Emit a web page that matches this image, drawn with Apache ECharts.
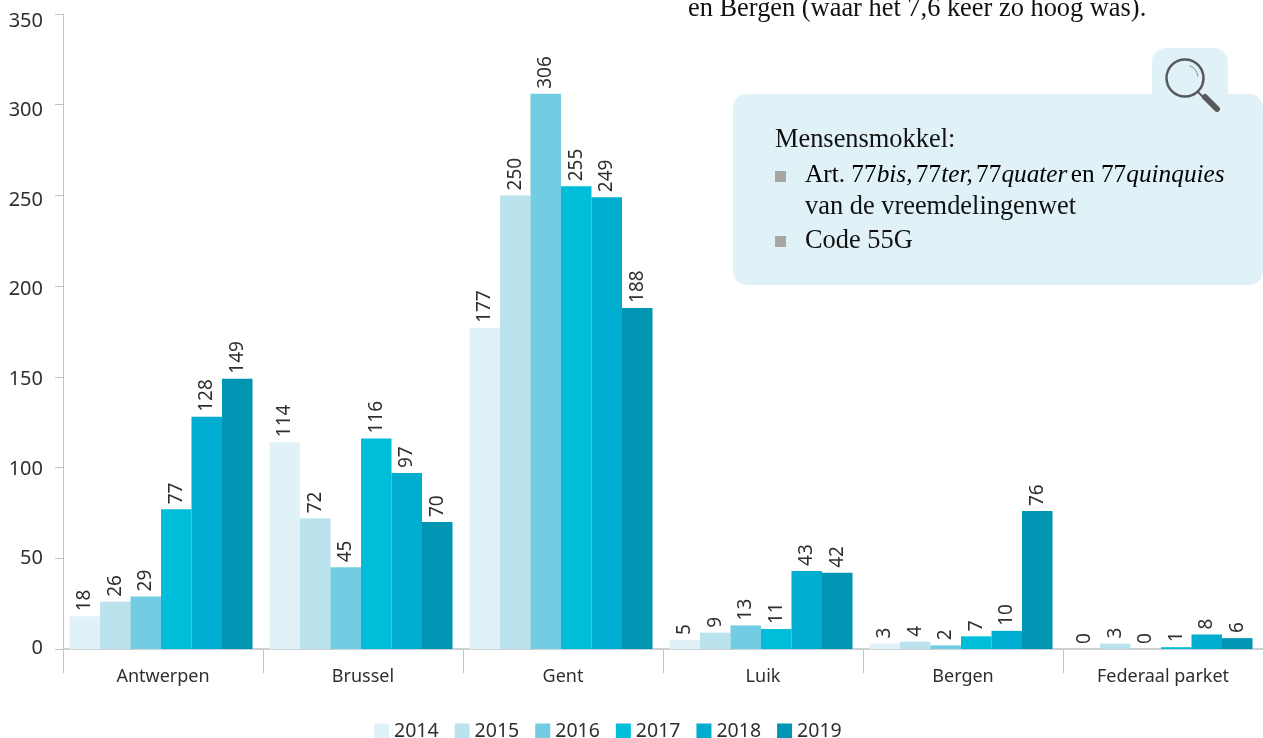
<!DOCTYPE html>
<html><head><meta charset="utf-8">
<script src="https://cdn.jsdelivr.net/npm/echarts@6/dist/echarts.min.js"></script>
<style>html,body{margin:0;padding:0;background:#fff}#c{width:1263px;height:738px}</style>
</head><body><div id="c"></div>
<script>
const categories = ['Antwerpen','Brussel','Gent','Luik','Bergen','Federaal parket'];
const years = ['2014','2015','2016','2017','2018','2019'];
const v2014 = [18,114,177,5,3,0];
const v2015 = [26,72,250,9,4,3];
const v2016 = [29,45,306,13,2,0];
const v2017 = [77,116,255,11,7,1];
const v2018 = [128,97,249,43,10,8];
const v2019 = [149,70,188,42,76,6];
const colors = ['#e0f2f7','#bae3ee','#72cce2','#00bdd9','#00acd0','#0096b3'];
const allValues = [v2014,v2015,v2016,v2017,v2018,v2019];
const sans = '"Noto Sans"';
const serif = '"Liberation Serif"';
const ink = '#2f2f2f';
const panel = '#e0f2f7';
const chart = echarts.init(document.getElementById('c'));
const bodyFont = '26.4px '+serif;
const richDef = {
  r:{fontFamily:'Liberation Serif',fontSize:25.3,color:'#111'},
  i:{fontFamily:'Liberation Serif',fontSize:25.3,fontStyle:'italic',color:'#111'}
};
const vAxisBase = {type:'value',min:0,max:350,interval:50,splitLine:{show:false}};
chart.setOption({
  animation:false,
  grid:[
    {left:61,right:2,top:14,bottom:89},
    {left:63,right:0,top:14,bottom:89},
    {left:63,right:0,top:21,bottom:90}
  ],
  legend:{data:years,left:369,top:716,itemWidth:15,itemHeight:15,itemGap:16,icon:'rect',
    textStyle:{fontFamily:sans,fontSize:19.5,color:ink}},
  xAxis:[
    {gridIndex:0,type:'category',data:categories,show:false},
    {gridIndex:1,type:'category',data:categories,
      axisLine:{lineStyle:{color:'#cdd0d2',width:2}},
      axisTick:{show:true,length:24,lineStyle:{color:'#c4c4c4',width:1}},
      axisLabel:{interval:0,margin:19,fontFamily:sans,fontSize:18,color:ink}},
    {gridIndex:2,type:'category',data:categories,show:false}
  ],
  yAxis:[
    Object.assign({gridIndex:0,show:false},vAxisBase),
    Object.assign({gridIndex:1,
      axisLine:{show:true,lineStyle:{color:'#c4c4c4',width:1}},
      axisTick:{show:true,length:8,lineStyle:{color:'#c4c4c4',width:1}},
      axisLabel:{show:false}},vAxisBase),
    Object.assign({gridIndex:2,
      axisLine:{show:false},axisTick:{show:false},
      axisLabel:{margin:20,fontFamily:sans,fontSize:20,color:ink}},vAxisBase)
  ],
  series:years.map((y,i)=>({name:y,type:'bar',xAxisIndex:0,yAxisIndex:0,data:allValues[i],barGap:0,barCategoryGap:'8.5%',
    itemStyle:{color:colors[i]},
    label:{show:true,position:'top',rotate:90,distance:5,align:'left',verticalAlign:'middle',fontFamily:sans,fontSize:19,color:ink}})),
  graphic:[
    {type:'rect',z:1,shape:{x:1152,y:48,width:76,height:70,r:14},style:{fill:panel}},
    {type:'rect',z:1,shape:{x:733,y:94,width:530,height:191,r:14},style:{fill:panel}},
    {type:'circle',z:5,shape:{cx:1185,cy:78,r:18.5},style:{fill:'none',stroke:'#58595b',lineWidth:2.5}},
    {type:'arc',z:5,shape:{cx:1185,cy:78,r:13,startAngle:-1.25,endAngle:-0.1},style:{fill:'none',stroke:'#8a8b8d',lineWidth:1}},
    {type:'line',z:5,shape:{x1:1198,y1:92,x2:1205,y2:99},style:{stroke:'#58595b',lineWidth:2}},
    {type:'line',z:5,shape:{x1:1205,y1:97,x2:1217,y2:109},style:{stroke:'#58595b',lineWidth:6,lineCap:'round'}},
    {type:'rect',z:5,shape:{x:775,y:171,width:11,height:11},style:{fill:'#a8a6a2'}},
    {type:'rect',z:5,shape:{x:775,y:236,width:11,height:11},style:{fill:'#a8a6a2'}},
    {type:'text',z:10,x:688,y:9,style:{text:'en Bergen (waar het 7,6 keer zo hoog was).',font:bodyFont,fill:'#111',verticalAlign:'middle'}},
    {type:'text',z:10,x:775,y:140.5,style:{text:'Mensensmokkel:',font:bodyFont,fill:'#111',verticalAlign:'middle'}},
    {type:'text',z:10,x:805,y:175,style:{text:'{r|Art. 77}{i|bis,} {r|77}{i|ter,} {r|77}{i|quater} {r|en 77}{i|quinquies}',rich:richDef,verticalAlign:'middle'}},
    {type:'text',z:10,x:805,y:207.5,style:{text:'van de vreemdelingenwet',font:bodyFont,fill:'#111',verticalAlign:'middle'}},
    {type:'text',z:10,x:805,y:241.5,style:{text:'Code 55G',font:bodyFont,fill:'#111',verticalAlign:'middle'}}
  ]
});
</script></body></html>
